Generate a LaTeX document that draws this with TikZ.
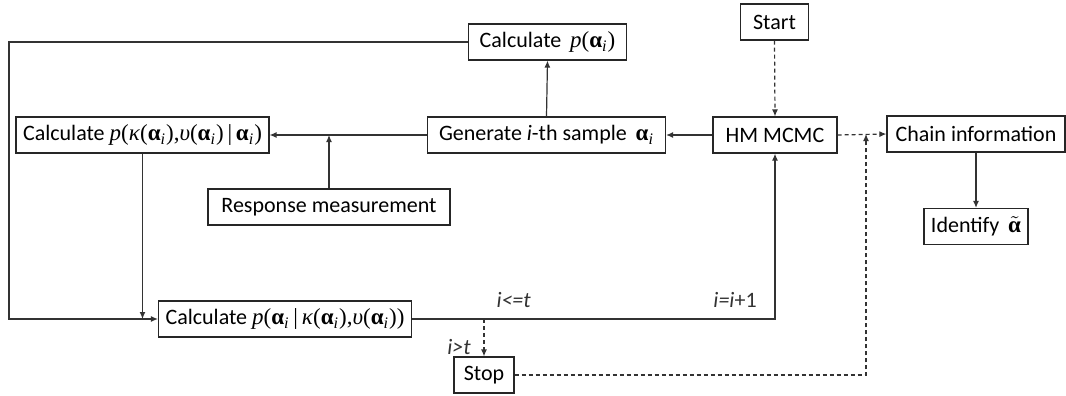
\documentclass[tikz,border=0pt]{standalone}
\usepackage{fontspec}
\setmainfont{Carlito}
\newfontfamily\formfont{Liberation Serif}
\usetikzlibrary{arrows.meta}

% formulas set in a Times-like face
\newcommand{\fm}[1]{{\formfont\fontsize{11.5}{13}\selectfont #1}}
\newcommand{\sa}{\textbf{α}\textsubscript{\textit{i}}}

\begin{document}
\begin{tikzpicture}[
    x = 0.5pt, y = -0.5pt,
    line width = 0.6pt,
    draw = black!80,
    > = {Latex[length = 3.5pt, width = 3pt]},
    font = \fontsize{11}{13}\selectfont,
    block/.style = {draw = black!85,
      rectangle,
      inner xsep = 3.5pt,
      minimum height = {18pt}},
    flow/.style = {->, black!80},
    chain/.style = {dashed, dash pattern = on 2pt off 1.5pt},
    cond/.style = {font = \fontsize{11}{13}\selectfont\itshape},
    ]

    \useasboundingbox (0, 0) rectangle (1066, 396);

    \node at (547.5, 42)
    [block, minimum width = {79pt}, name = calc_prior]
    {Calculate \fm{\,\textit{p}(\sa)}};

    \node at (774.5, 22)
    [block, minimum width = {34pt}, name = start] {Start};

    \node at (142.5, 135)
    [block, minimum width = {120pt}, name = calc_lik]
    {Calculate \fm{\textit{p}(\textit{κ}(\sa),\textit{υ}(\sa)\,|\,\sa)}};

    \node at (546.5, 135)
    [block, minimum width = {119pt}, name = generate]
    {Generate \textit{i}-th sample \fm{\,\sa}};

    \node at (775, 135)
    [block, minimum width = {62pt}, name = hm_mcmc] {HM MCMC};

    \node at (976, 134)
    [block, minimum width = {89pt}, name = chain_info] {Chain information};

    \node at (976, 226.5)
    [block, minimum width = {51pt}, name = identify]
    {Identify \fm{\,$\tilde{\mbox{\textbf{α}}}$}};

    \node at (329, 207)
    [block, minimum width = {121pt}, name = response] {Response measurement};

    \node at (285, 319)
    [block, minimum width = {123pt}, name = calc_post]
    {Calculate \fm{\textit{p}(\sa\,|\,\textit{κ}(\sa),\textit{υ}(\sa))}};

    \node at (484, 375)
    [block, minimum width = {30pt}, name = stop] {Stop};

    \coordinate (prior_turn) at (9, 42);
    \coordinate (stop_merge) at (866, 134);

    \draw [flow, chain] (start.south) to (hm_mcmc.north);
    \draw [flow, chain] (hm_mcmc.east) to (chain_info.west);
    \draw [flow] (chain_info.south) to (identify.north);

    \draw [flow] (hm_mcmc.west) to (generate.east);
    \draw [flow] (generate.north) to (calc_prior.south);
    \draw [flow] (generate.west) to (calc_lik.east);
    \draw [flow] (response.north) to (response.north |- generate.west);

    \draw [flow] (calc_prior.west) -- (prior_turn) |- (calc_post.west);
    \draw [flow] (calc_lik.south) to (calc_lik.south |- calc_post.west);

    \draw [flow] (calc_post.east) --
    node [cond, above, pos = 0.28, yshift = 2pt] {i<=t}
    node [above, pos = 0.89, yshift = 2pt] {\textit{i=i}+1}
    (hm_mcmc.south |- calc_post.east) -- (hm_mcmc.south);

    \draw [flow, chain] (stop.north |- calc_post.east) to
    node [cond, left, pos = 0.75, xshift = -3pt] {i>t} (stop.north);
    \draw [flow, chain] (stop.east) -| (stop_merge);
  \end{tikzpicture}
\end{document}
